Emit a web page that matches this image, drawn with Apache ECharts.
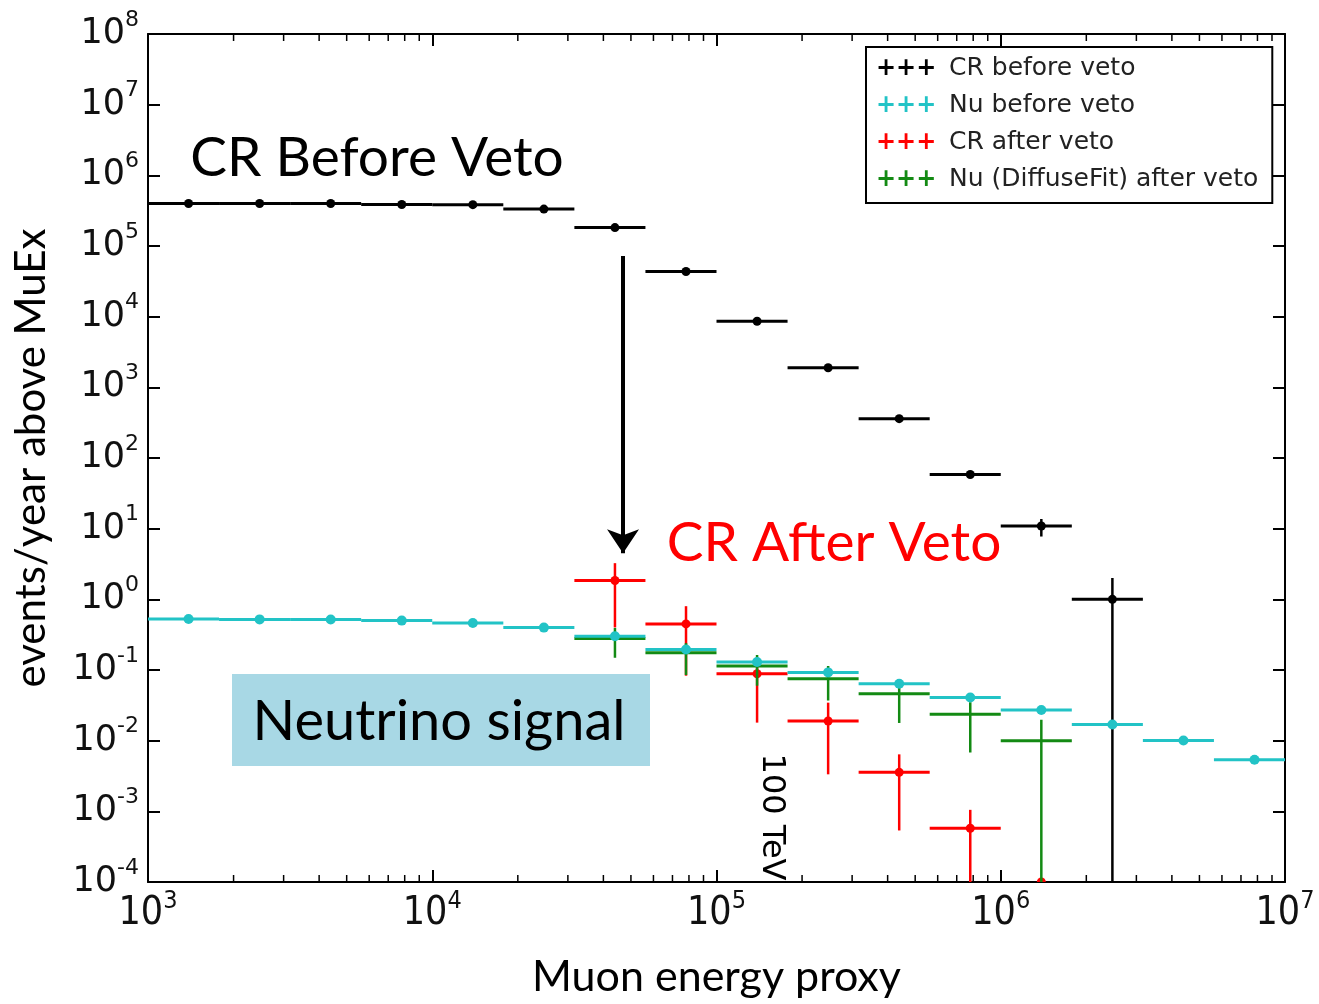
<!DOCTYPE html>
<html>
<head>
<meta charset="utf-8">
<script src="https://cdn.jsdelivr.net/npm/echarts@6/dist/echarts.min.js"></script>
<style>html,body{margin:0;padding:0;background:#fff}#c{width:1319px;height:1004px}</style>
</head>
<body>
<div id="c"></div>
<script>
// Bin edges (4 bins per decade) and bin centres (linear mid-points)
const binLo = [1000, 1778, 3162, 5623, 10000, 17783, 31623, 56234, 100000, 177828, 316228, 562341, 1000000, 1778279, 3162278, 5623413];
const binHi = [1778, 3162, 5623, 10000, 17783, 31623, 56234, 100000, 177828, 316228, 562341, 1000000, 1778279, 3162278, 5623413, 10000000];
const binCenter = [1389, 2470, 4393, 7812, 13892, 24703, 43929, 78117, 138914, 247034, 439284, 781170, 1389140, 2470340, 4392840, 7811707];

// CR before veto
const crBefore   = [4.0e5, 4.0e5, 4.0e5, 3.87e5, 3.85e5, 3.33e5, 1.82e5, 4.36e4, 8.6e3, 1.89e3, 360, 58.5, 10.9, 1.0, null, null];
const crBeforeLo = [4.0e5, 4.0e5, 4.0e5, 3.87e5, 3.85e5, 3.33e5, 1.82e5, 4.36e4, 8.6e3, 1.89e3, 360, 58.5, 7.74, 0, null, null];
const crBeforeHi = [4.0e5, 4.0e5, 4.0e5, 3.87e5, 3.85e5, 3.33e5, 1.82e5, 4.36e4, 8.6e3, 1.89e3, 360, 58.5, 13.7, 2.0, null, null];

// Nu before veto
const nuBefore = [0.527, 0.52, 0.518, 0.50, 0.463, 0.398, 0.30, 0.195, 0.13, 0.0925, 0.064, 0.0407, 0.0272, 0.0169, 0.01005, 0.00537];

// CR after veto
const crAfter   = [null, null, null, null, null, null, 1.85, 0.449, 0.0885, 0.019, 0.00356, 0.000577, 1.0e-4, null, null, null];
const crAfterLo = [null, null, null, null, null, null, 0.40, 0.083, 0.018, 0.00334, 0.000536, 0, 1.0e-4, null, null, null];
const crAfterHi = [null, null, null, null, null, null, 3.25, 0.80, 0.13, 0.0345, 0.0064, 0.00105, 1.0e-4, null, null, null];

// Nu (DiffuseFit) after veto
const nuAfter   = [null, null, null, null, null, null, 0.279, 0.175, 0.114, 0.075, 0.0462, 0.0236, 0.010, null, null, null];
const nuAfterLo = [null, null, null, null, null, null, 0.149, 0.085, 0.060, 0.037, 0.0178, 0.0068, 0, null, null, null];
const nuAfterHi = [null, null, null, null, null, null, 0.394, 0.240, 0.163, 0.114, 0.0558, 0.035, 0.0197, null, null, null];

const seriesNames = ['CR before veto', 'Nu before veto', 'CR after veto', 'Nu (DiffuseFit) after veto'];
const seriesColors = ['#000000', '#22c3c6', '#ff0000', '#138a13'];

const X_MIN = 1e3, X_MAX = 1e7, Y_MIN = 1e-4, Y_MAX = 1e8;

function rows(val, lo, hi) {
  const out = [];
  for (let i = 0; i < val.length; i++) {
    if (val[i] == null) continue;
    out.push([binCenter[i], val[i], binLo[i], binHi[i],
      lo ? lo[i] : val[i], hi ? hi[i] : val[i]]);
  }
  return out;
}

function errRenderer(color, dotR, hw, vw) {
  return function (params, api) {
    const c = api.value(0), v = api.value(1), xl = api.value(2), xh = api.value(3);
    let yl = api.value(4), yh = api.value(5);
    if (!(yl > 0)) yl = Y_MIN / 100;
    const p0 = api.coord([xl, v]), p1 = api.coord([xh, v]);
    const pc = api.coord([c, v]);
    const children = [];
    if (v > Y_MIN) {
      children.push({
        type: 'line', shape: {x1: p0[0], y1: p0[1], x2: p1[0], y2: p1[1]},
        style: {stroke: color, lineWidth: hw}
      });
    }
    if (yh > yl) {
      const q0 = api.coord([c, yl]), q1 = api.coord([c, yh]);
      children.push({type: 'line', shape: {x1: q0[0], y1: q0[1], x2: q1[0], y2: q1[1]},
        style: {stroke: color, lineWidth: vw}});
    }
    if (dotR > 0) {
      children.push({type: 'circle', shape: {cx: pc[0], cy: pc[1], r: dotR}, style: {fill: color}});
    }
    return {type: 'group', children};
  };
}

// minor tick positions (2..9 per decade) for the log x-axis
const minorMult = [2, 3, 4, 5, 6, 7, 8, 9];
const minorTicks = [];
for (let d = 3; d < 7; d++) for (const m of minorMult) minorTicks.push([m * Math.pow(10, d)]);

function expOf(v) { return Math.round(Math.log10(v)); }
const labelRich = (big, small, fam) => ({
  b: {fontSize: big, fontFamily: fam, lineHeight: 50, color: '#111'},
  s: {fontSize: small, fontFamily: fam, lineHeight: 22, verticalAlign: 'top', color: '#111'}
});

const chart = echarts.init(document.getElementById('c'));
const axisLine = {show: true, lineStyle: {color: '#000', width: 2}};
const mk = c => ({color: c, fontSize: 24, fontWeight: 'bold', width: 73, fontFamily: 'DejaVu Sans'});
const option = {
  backgroundColor: '#fff',
  animation: false,
  grid: {left: 148, right: 34, top: 34, bottom: 119, containLabel: false},
  xAxis: [{
    type: 'log', logBase: 10, min: X_MIN, max: X_MAX, splitNumber: 4,
    axisLine, splitLine: {show: false},
    axisTick: {inside: true, length: 12, lineStyle: {color: '#000', width: 2}},
    axisLabel: {
      margin: 7,
      formatter: v => '{b|10}{s|' + expOf(v) + '}',
      rich: labelRich(39, 25, "'Liberation Sans Narrow', 'DejaVu Sans Condensed', Lato")
    },
    name: 'Muon energy proxy', nameLocation: 'middle', nameGap: 74,
    nameTextStyle: {fontSize: 43, fontFamily: 'Lato', color: '#000'}
  }, {
    type: 'log', logBase: 10, min: X_MIN, max: X_MAX, position: 'top', splitNumber: 4,
    axisLine, splitLine: {show: false}, axisLabel: {show: false},
    axisTick: {inside: true, length: 12, lineStyle: {color: '#000', width: 2}}
  }],
  yAxis: [{
    type: 'log', logBase: 10, min: Y_MIN, max: Y_MAX, splitNumber: 12, interval: 1,
    axisLine, splitLine: {show: false},
    axisTick: {inside: true, length: 12, lineStyle: {color: '#000', width: 2}},
    axisLabel: {
      margin: 9,
      formatter: v => '{b|10}{s|' + expOf(v) + '}',
      rich: labelRich(35, 22, "'DejaVu Sans'")
    },
    name: 'events/year above MuEx', nameLocation: 'middle', nameGap: 96, nameRotate: 90,
    nameTextStyle: {fontSize: 42, fontFamily: 'Lato', color: '#000'}
  }, {
    type: 'log', logBase: 10, min: Y_MIN, max: Y_MAX, position: 'right', splitNumber: 12, interval: 1,
    axisLine, splitLine: {show: false}, axisLabel: {show: false},
    axisTick: {inside: true, length: 12, lineStyle: {color: '#000', width: 2}}
  }],
  legend: {
    left: 866, top: 47, orient: 'vertical', icon: 'none', itemWidth: 0, itemHeight: 23, itemGap: 12,
    padding: [9, 14, 11, 5], borderColor: '#000', borderWidth: 2, backgroundColor: '#fff',
    data: seriesNames,
    selectedMode: false,
    formatter: name => '{m' + seriesNames.indexOf(name) + '|+++}{t|' + name + '}',
    textStyle: {
      fontFamily: 'DejaVu Sans', fontSize: 25, color: '#222',
      rich: {
        m0: mk(seriesColors[0]), m1: mk(seriesColors[1]), m2: mk(seriesColors[2]), m3: mk(seriesColors[3]),
        t: {fontSize: 25, fontFamily: 'DejaVu Sans', color: '#222'}
      }
    }
  },
  graphic: [
    {type: 'rect', shape: {x: 232, y: 674, width: 418, height: 92}, style: {fill: '#a8d8e5'}, z: 1},
    {type: 'text', x: 439, y: 722, z: 10, style: {text: 'Neutrino signal', font: '56px Lato', fill: '#000', align: 'center', verticalAlign: 'middle'}},
    {type: 'text', x: 377, y: 158, z: 10, style: {text: 'CR Before Veto', font: '55px Lato', fill: '#000', align: 'center', verticalAlign: 'middle'}},
    {type: 'text', x: 834, y: 543, z: 10, style: {text: 'CR After Veto', font: '55px Lato', fill: '#ff0000', align: 'center', verticalAlign: 'middle'}},
    {type: 'text', x: 771, y: 817, rotation: -Math.PI / 2, z: 10, style: {text: '100 TeV', font: '32px "DejaVu Sans"', fill: '#000', align: 'center', verticalAlign: 'middle'}}
  ],
  series: [
    {
      name: seriesNames[0], type: 'custom', clip: true, z: 3,
      itemStyle: {color: seriesColors[0]},
      encode: {x: 0, y: 1},
      renderItem: errRenderer(seriesColors[0], 4.5, 3, 2.5),
      data: rows(crBefore, crBeforeLo, crBeforeHi),
      markLine: {
        silent: true, symbol: ['none', 'arrow'], symbolSize: 24,
        lineStyle: {color: '#000', width: 4, type: 'solid'}, label: {show: false},
        data: [[{coord: [4.69e4, 7.2e4]}, {coord: [4.69e4, 4.5]}]]
      }
    },
    {
      name: seriesNames[2], type: 'custom', clip: true, z: 3,
      itemStyle: {color: seriesColors[2]},
      encode: {x: 0, y: 1},
      renderItem: errRenderer(seriesColors[2], 4.5, 3, 2.5),
      data: rows(crAfter, crAfterLo, crAfterHi)
    },
    {
      name: seriesNames[3], type: 'custom', clip: true, z: 3,
      itemStyle: {color: seriesColors[3]},
      encode: {x: 0, y: 1},
      renderItem: errRenderer(seriesColors[3], 0, 3, 2.5),
      data: rows(nuAfter, nuAfterLo, nuAfterHi)
    },
    {
      name: seriesNames[1], type: 'custom', clip: true, z: 3,
      itemStyle: {color: seriesColors[1]},
      encode: {x: 0, y: 1},
      renderItem: errRenderer(seriesColors[1], 5, 3, 2.5),
      data: rows(nuBefore, null, null)
    },
    {
      name: 'minorTicks', type: 'custom', silent: true, z: 2,
      encode: {x: 0},
      renderItem: function (params, api) {
        const pb = api.coord([api.value(0), Y_MIN]);
        const pt = api.coord([api.value(0), Y_MAX]);
        return {type: 'group', children: [
          {type: 'line', shape: {x1: pb[0], y1: pb[1], x2: pb[0], y2: pb[1] - 7}, style: {stroke: '#000', lineWidth: 1.5}},
          {type: 'line', shape: {x1: pt[0], y1: pt[1], x2: pt[0], y2: pt[1] + 7}, style: {stroke: '#000', lineWidth: 1.5}}
        ]};
      },
      data: minorTicks
    }
  ]
};
chart.setOption(option);
</script>
</body>
</html>
